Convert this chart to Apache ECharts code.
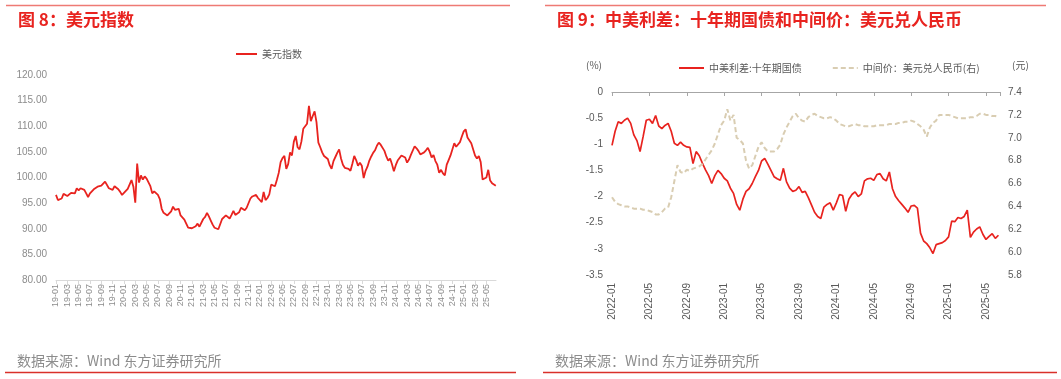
<!DOCTYPE html>
<html><head><meta charset="utf-8">
<script src="https://cdn.jsdelivr.net/npm/echarts@6/dist/echarts.min.js"></script>
<style>html,body{margin:0;padding:0;background:#fff}#c{width:1061px;height:379px}</style>
</head><body><div id="c"></div>
<script>
// ---- Figure 8: US dollar index, 3 readings per month starting 2019-01 ----
const dxy2019 = [96.6,95.6,95.9, 95.9,96.8,96.5, 96.4,96.6,97.0, 97.2,96.9,97.9, 97.5,97.9,97.8, 97.6,96.9,96.2,
  96.9,96.8,97.7, 98.0,98.2,98.3, 98.4,98.2,99.2, 98.9,97.9,97.6, 97.6,98.3,98.3, 97.7,97.2,96.6];
const dxy2020 = [97.0,97.3,97.8, 98.0,99.5,98.2, 95.1,102.7,99.0, 100.4,99.6,100.2, 99.8,100.0,98.3, 96.9,97.3,97.4,
  96.6,95.8,93.9, 93.1,93.2,92.6, 92.9,93.4,94.3, 93.7,93.5,93.9, 92.6,92.4,91.8, 91.0,90.2,89.9];
const dxy2021 = [90.1,90.3,90.5, 91.0,90.4,90.6, 91.9,92.3,93.1, 92.4,91.6,90.8, 90.2,90.0,89.9, 90.1,91.9,92.1,
  92.6,92.8,92.0, 92.7,93.5,92.7, 92.6,93.2,94.1, 94.1,93.6,94.1, 94.3,95.9,96.3, 96.1,96.6,96.0];
const dxy2022 = [95.7,95.2,97.2, 95.6,96.0,96.7, 98.6,98.3,98.3, 99.5,100.9,103.0, 103.8,104.2,101.7, 102.6,104.9,104.3,
  107.0,108.1,105.9, 105.5,107.0,109.5, 109.6,110.5,114.0, 111.0,112.0,112.9, 110.8,106.8,105.9, 104.9,104.2,104.0];
const dxy2023 = [103.6,102.4,101.7, 103.2,104.0,104.8, 105.5,103.7,102.5, 101.9,101.6,101.7, 101.3,102.7,104.2, 103.4,102.3,102.9,
  102.3,99.9,101.3, 102.1,103.3,104.1, 104.8,105.3,106.2, 106.8,106.4,106.7, 105.2,104.1,103.3, 103.7,102.6,101.2];
const dxy2024 = [102.4,103.3,103.4, 104.3,104.3,103.9, 102.9,103.5,104.4, 104.3,106.1,105.7, 105.2,104.5,104.7, 104.9,105.3,105.8,
  105.0,103.9,104.4, 103.2,102.5,100.9, 101.5,100.8,100.4, 102.5,103.4,104.3, 104.5,106.7,106.0, 106.1,106.9,108.0];
const dxy2025 = [109.0,109.4,107.8, 108.0,106.7,106.5, 104.3,103.7,104.2, 103.0,99.6,99.3, 100.0,101.5,99.4, 98.9,99.2,98.4];
const dxy = [].concat(dxy2019, dxy2020, dxy2021, dxy2022, dxy2023, dxy2024, dxy2025);
const dxyStartYear = 2019;

// ---- Figure 9: China-US 10y spread (%) and USD/CNY central parity, 3 readings per month starting 2022-01 ----
const spread = [
  -1.02,-0.75,-0.57, -0.60,-0.54,-0.50, -0.60,-0.82,-0.93, -1.14,-0.85,-0.54, -0.52,-0.60,-0.45, -0.65,-0.70,-0.64,
  -0.60,-0.75,-0.98, -1.02,-0.96,-1.02, -1.05,-1.06,-1.37, -1.14,-1.22,-1.36, -1.49,-1.60,-1.75, -1.60,-1.50,-1.56,
  -1.65,-1.70,-1.84, -1.94,-2.15,-2.26, -2.05,-1.90,-1.85, -1.75,-1.62,-1.50, -1.32,-1.27,-1.38, -1.50,-1.62,-1.66,
  -1.69,-1.46,-1.72, -1.84,-1.90,-1.88, -1.81,-1.92,-1.90, -2.02,-2.16,-2.30, -2.38,-2.42,-2.20, -2.15,-2.12,-2.26,
  -2.12,-1.96,-1.98, -2.28,-2.05,-1.96, -1.91,-2.00,-1.95, -1.70,-1.66,-1.65, -1.69,-1.58,-1.56, -1.66,-1.70,-1.53,
  -1.85,-2.00,-2.08, -2.15,-2.22,-2.30, -2.18,-2.17,-2.22, -2.70,-2.85,-2.90, -2.98,-3.09,-2.92, -2.90,-2.88,-2.84,
  -2.77,-2.47,-2.48, -2.40,-2.42,-2.38, -2.26,-2.78,-2.68, -2.62,-2.58,-2.72, -2.82,-2.76,-2.71, -2.80,-2.74];
const cny = [
  6.48,6.44,6.42, 6.41,6.40,6.40, 6.39,6.38,6.38, 6.38,6.37,6.37, 6.36,6.35,6.33, 6.33,6.35,6.38,
  6.39,6.48,6.62, 6.76,6.70,6.69, 6.72,6.71,6.73, 6.74,6.75,6.77, 6.81,6.85,6.89, 6.95,7.03,7.11,
  7.15,7.25,7.15, 7.20,7.00,6.98, 6.95,6.80,6.73, 6.76,6.84,6.92, 6.96,6.91,6.88, 6.88,6.88,6.90,
  6.94,7.03,7.09, 7.14,7.19,7.21, 7.17,7.15,7.14, 7.18,7.20,7.21, 7.19,7.18,7.17, 7.17,7.18,7.17,
  7.15,7.12,7.11, 7.10,7.10,7.11, 7.12,7.11,7.11, 7.10,7.10,7.10, 7.10,7.11,7.11, 7.11,7.11,7.12,
  7.12,7.12,7.13, 7.13,7.14,7.14, 7.15,7.14,7.12, 7.10,7.07,7.01, 7.09,7.13,7.15, 7.20,7.20,7.20,
  7.20,7.19,7.18, 7.17,7.17,7.17, 7.17,7.18,7.18, 7.19,7.21,7.21, 7.20,7.20,7.19, 7.19,7.18];
const rightStartYear = 2022;
const perMonth = 3;

const title8 = '图 8：美元指数';
const title9 = '图 9：中美利差：十年期国债和中间价：美元兑人民币';
const name8 = '美元指数';
const nameSpread = '中美利差:十年期国债';
const nameCny = '中间价：美元兑人民币(右)';
const source = '数据来源：Wind 东方证券研究所';
const unitLeft = '(%)';
const unitRight = '(元)';

const RED = '#E8231F';
const NUM = '"Liberation Sans", Arial, "Noto Sans CJK SC", sans-serif';
const CJK = '"Noto Sans CJK SC", sans-serif';

function pad(n){ return n < 10 ? '0' + n : '' + n; }
function labShort(m){ m = Math.round(m); const y = dxyStartYear + Math.floor(m/12); return String(y).slice(2) + '-' + pad(m % 12 + 1); }
function labLong(m){ m = Math.round(m); const y = rightStartYear + Math.floor(m/12); return y + '-' + pad(m % 12 + 1); }

const chart = echarts.init(document.getElementById('c'));
chart.setOption({
  animation: false,
  grid: [
    {left: 56, right: 565, top: 75, bottom: 99},
    {left: 612, right: 61, top: 92, bottom: 104}
  ],
  xAxis: [
    {gridIndex: 0, type: 'value', min: 0, max: 77.7, interval: 2,
      axisLine: {onZero: false, lineStyle: {color: '#D9D9D9'}},
      axisTick: {length: 4, lineStyle: {color: '#D9D9D9'}},
      splitLine: {show: false},
      axisLabel: {rotate: 90, fontSize: 9, color: '#8C8C8C', margin: 4, fontFamily: NUM,
        showMaxLabel: false, formatter: labShort}},
    {gridIndex: 1, type: 'value', position: 'bottom', min: 0, max: 41.5, interval: 4,
      axisLine: {show: false, onZero: false}, axisTick: {show: false}, splitLine: {show: false},
      axisLabel: {rotate: 90, fontSize: 10, color: '#595959', margin: 8, fontFamily: NUM,
        showMaxLabel: false, formatter: labLong}},
    {gridIndex: 1, type: 'value', position: 'top', min: 0, max: 41.5, interval: 4,
      axisLine: {onZero: false, lineStyle: {color: '#A6A6A6'}},
      axisTick: {inside: true, length: 4, lineStyle: {color: '#A6A6A6'}},
      axisLabel: {show: false}, splitLine: {show: false}}
  ],
  yAxis: [
    {gridIndex: 0, type: 'value', min: 80, max: 120, interval: 5,
      axisLine: {show: false, onZero: false}, axisTick: {show: false}, splitLine: {show: false},
      axisLabel: {fontSize: 10, color: '#8C8C8C', margin: 9, fontFamily: NUM, formatter: v => v.toFixed(2)}},
    {gridIndex: 1, type: 'value', position: 'left', min: -3.5, max: 0, interval: 0.5,
      axisLine: {show: false, onZero: false}, axisTick: {show: false}, splitLine: {show: false},
      axisLabel: {fontSize: 10, color: '#595959', margin: 9, fontFamily: NUM, formatter: v => String(+v.toFixed(1))}},
    {gridIndex: 1, type: 'value', position: 'right', min: 5.8, max: 7.4, interval: 0.2,
      axisLine: {show: false, onZero: false}, axisTick: {show: false}, splitLine: {show: false},
      axisLabel: {fontSize: 10, color: '#595959', margin: 8, fontFamily: NUM, formatter: v => v.toFixed(1)}}
  ],
  legend: [
    {data: [name8], left: 230, top: 44, itemWidth: 21, itemHeight: 12,
      itemStyle: {opacity: 0},
      textStyle: {fontSize: 10, color: '#595959', fontFamily: CJK}},
    {data: [nameSpread, nameCny], left: 673, top: 58, itemWidth: 25, itemHeight: 12, itemGap: 30,
      itemStyle: {opacity: 0},
      textStyle: {fontSize: 10, color: '#595959', fontFamily: CJK}}
  ],
  series: [
    {type: 'line', name: name8, xAxisIndex: 0, yAxisIndex: 0, symbol: 'none',
      data: dxy.map((v, i) => [i / perMonth, v]),
      lineStyle: {color: RED, width: 1.8}, itemStyle: {color: RED}},
    {type: 'line', name: nameSpread, xAxisIndex: 1, yAxisIndex: 1, symbol: 'none',
      data: spread.map((v, i) => [i / perMonth, v]),
      lineStyle: {color: RED, width: 1.7}, itemStyle: {color: RED}},
    {type: 'line', name: nameCny, xAxisIndex: 1, yAxisIndex: 2, symbol: 'none',
      data: cny.map((v, i) => [i / perMonth, v]),
      lineStyle: {color: '#D9CDB2', width: 2, type: [5, 3]}, itemStyle: {color: '#D9CDB2'}}
  ],
  graphic: [
    {type: 'line', shape: {x1: 6, y1: 5.5, x2: 510, y2: 5.5}, style: {stroke: '#EE7A74', lineWidth: 1.5}},
    {type: 'line', shape: {x1: 545, y1: 5.5, x2: 1046, y2: 5.5}, style: {stroke: '#EE7A74', lineWidth: 1.5}},
    {type: 'text', x: 18, y: 20, style: {text: title8, fill: RED, font: 'bold 17px ' + CJK, textVerticalAlign: 'middle'}},
    {type: 'text', x: 557, y: 20, style: {text: title9, fill: RED, font: 'bold 17px ' + CJK, textVerticalAlign: 'middle'}},
    {type: 'text', x: 586, y: 65, style: {text: unitLeft, fill: '#595959', font: '10px ' + CJK, textVerticalAlign: 'middle'}},
    {type: 'text', x: 1012, y: 65, style: {text: unitRight, fill: '#595959', font: '10px ' + CJK, textVerticalAlign: 'middle'}},
    {type: 'text', x: 17, y: 361, style: {text: source, fill: '#8C8C8C', font: '14px ' + CJK, textVerticalAlign: 'middle'}},
    {type: 'text', x: 555, y: 361, style: {text: source, fill: '#8C8C8C', font: '14px ' + CJK, textVerticalAlign: 'middle'}},
    {type: 'line', shape: {x1: 5, y1: 372.5, x2: 516, y2: 372.5}, style: {stroke: '#D9302A', lineWidth: 1.5}},
    {type: 'line', shape: {x1: 543, y1: 372.5, x2: 1057, y2: 372.5}, style: {stroke: '#D9302A', lineWidth: 1.5}}
  ]
});
</script>
</body></html>
